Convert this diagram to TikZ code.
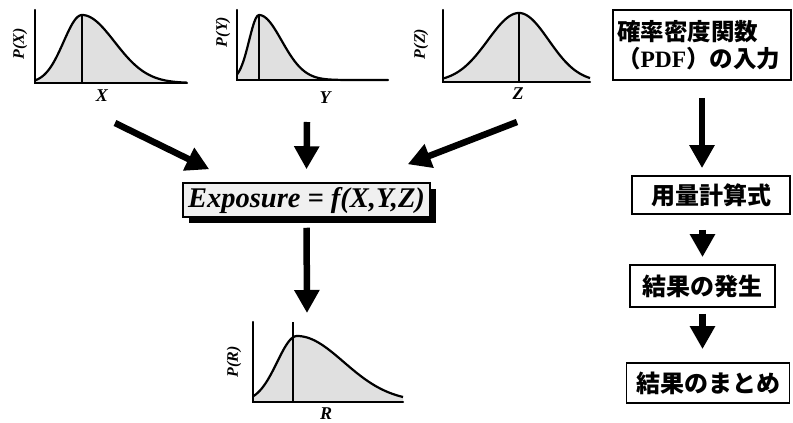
\documentclass[tikz,border=0pt]{standalone}
\usepackage{fontspec}
\setmainfont{Liberation Serif}
\newfontfamily\cjk{Noto Sans CJK JP}
\usetikzlibrary{arrows.meta,shadows}

\begin{document}
\begin{tikzpicture}[x=1pt, y=-1pt,
  axis/.style={line width=2.4pt, line cap=round},
  curve/.style={line width=2.2pt, line join=round},
  bigarrow/.style={line width=6.5pt, -{Triangle[width=24pt,length=23pt]}},
  jbox/.style={draw, line width=1.8pt, inner sep=0pt, minimum height=38pt,
    font=\cjk\bfseries\fontsize{24}{28}\selectfont},
  lab/.style={font=\bfseries\itshape\fontsize{18}{18}\selectfont},
  plab/.style={font=\bfseries\itshape\fontsize{16}{16}\selectfont, rotate=90}]

  \useasboundingbox (0,0) rectangle (793,423);

  % distributions: origin, axis end, axis top, peak, height, spreads, mean line, labels
  \foreach \ox/\oy/\ex/\at/\pk/\h/\sl/\sr/\ml/\mt/\nm/\lx/\ly/\px/\py in {
      35/83/187/10/82/68/26/46/82/15/X/102/96/20/44,
      237/80/388/10/259/65/14/32/259/15/Y/325/98/223/32,
      443/82/590/10/519/69/44/42/519/13/Z/518/94/421/44,
      253/402/403/322/297/66/28/66/293/322/R/326/414/234/362} {
    \fill[black!12] (\ox,\oy) -- plot[domain=\ox:\ex, samples=90]
      (\x, {\oy-\h*exp(-((\x-\pk)/ifthenelse(\x<\pk,\sl,\sr))^2)}) -- (\ex,\oy) -- cycle;
    \draw[curve] plot[domain=\ox:\ex, samples=90]
      (\x, {\oy-\h*exp(-((\x-\pk)/ifthenelse(\x<\pk,\sl,\sr))^2)});
    \draw[axis] (\ox,\at) -- (\ox,\oy) -- (\ex,\oy);
    \draw[line width=2pt] (\ml,\oy) -- (\ml,\mt);
    \node[lab] (v-\nm) at (\lx,\ly) {\nm};
    \node[plab] (p-\nm) at (\px,\py) {P(\nm)};
  }

  \node[draw, line width=1.5pt, fill=black!6,
    drop shadow={shadow xshift=6pt, shadow yshift=-6pt, opacity=1, fill=black},
    minimum width=247pt, minimum height=34pt, inner sep=0pt,
    font=\bfseries\itshape\fontsize{28.5}{28.5}\selectfont] (ex) at (306.5,200) {Exposure = f(X,Y,Z)};

  \coordinate (aX) at (115,123);
  \coordinate (aY) at (307,122);
  \coordinate (aZ) at (517,122);
  \coordinate (tR) at (307,313);
  \draw[bigarrow] (aX) -- ([xshift=27pt, yshift=13pt]ex.north west);
  \draw[bigarrow] (aY) -- ([yshift=13pt]ex.north);
  \draw[bigarrow] (aZ) -- ([xshift=-23pt, yshift=18pt]ex.north east);
  \draw[bigarrow, shorten <=10pt] (ex.south) -- (tR);

  % right column
  \node[jbox, font=\cjk\bfseries\fontsize{23.5}{27}\selectfont, align=left,
    text width=170pt, inner xsep=4pt, minimum height=70pt] (pdf) at (702,45)
    {確率密度関数\\（{\rmfamily PDF}）の入力};
  \node[jbox, minimum width=158pt] (calc) at (711,195) {用量計算式};
  \node[jbox, minimum width=145pt, minimum height=42pt] (occ) at (702.5,286) {結果の発生};
  \node[jbox, minimum width=163pt, minimum height=40pt] (summ) at (708,383) {結果のまとめ};

  \draw[bigarrow, shorten <=17pt, shorten >=7pt] (pdf.south) -- (pdf.south |- calc.north);
  \draw[bigarrow, shorten <=15pt, shorten >=7pt] (occ.north |- calc.south) -- (occ.north);
  \draw[bigarrow, shorten <=6pt, shorten >=13pt] (occ.south) -- (occ.south |- summ.north);
\end{tikzpicture}
\end{document}
